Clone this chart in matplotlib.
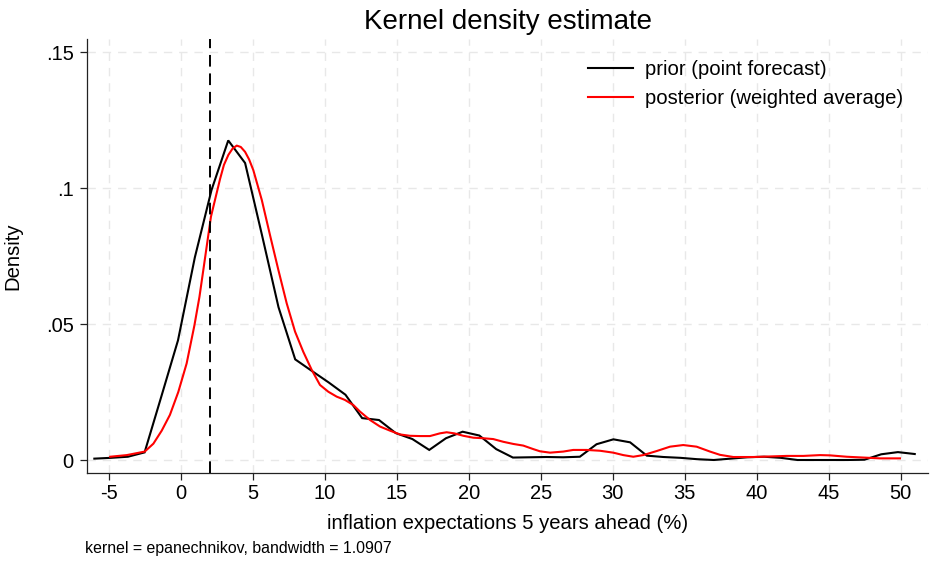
import matplotlib
matplotlib.use("Agg")
import matplotlib.pyplot as plt

plt.rcParams['font.family'] = ['Liberation Sans', 'DejaVu Sans']

# prior (point forecast) density, evaluated on Stata's 50-point grid
prior_x = [-6.00, -4.84, -3.67, -2.51, -1.35, -0.19, 0.98, 2.14, 3.30, 4.47,
           5.63, 6.79, 7.95, 9.12, 10.28, 11.44, 12.60, 13.77, 14.93, 16.09,
           17.26, 18.42, 19.58, 20.74, 21.91, 23.07, 24.23, 25.40, 26.56, 27.72,
           28.88, 30.05, 31.21, 32.37, 33.53, 34.70, 35.86, 37.02, 38.19, 39.35,
           40.51, 41.67, 42.84, 44.00, 45.16, 46.33, 47.49, 48.65, 49.81, 50.98]
prior_y = [0.0005, 0.0008, 0.0012, 0.0028, 0.0233, 0.0440, 0.0745, 0.0993, 0.1175, 0.1092,
           0.0830, 0.0562, 0.0370, 0.0327, 0.0285, 0.0240, 0.0154, 0.0147, 0.0099, 0.0077,
           0.0037, 0.0080, 0.0104, 0.0090, 0.0040, 0.0009, 0.0010, 0.0011, 0.0010, 0.0012,
           0.0058, 0.0076, 0.0065, 0.0016, 0.0011, 0.0008, 0.0003, 0.0000, 0.0005, 0.0010,
           0.0012, 0.0008, 0.0000, 0.0000, 0.0000, 0.0000, 0.0001, 0.0021, 0.0029, 0.0022]

# posterior (weighted average) density
post_x = [-4.9, -3.75, -2.5, -1.9, -1.32, -0.75, -0.17, 0.41, 0.95, 1.3,
          1.57, 2.1, 2.73, 3.0, 3.31, 3.6, 3.89, 4.17, 4.47, 4.75,
          5.04, 5.63, 6.2, 6.78,
          7.36, 7.94, 8.51, 9.1, 9.67, 10.25, 10.83, 11.4, 11.99, 12.45,
          13.15, 13.84, 14.53, 15.23, 15.92, 16.62, 17.31, 18.0, 18.47, 19.0,
          19.63, 20.32, 21.01, 21.7, 22.4, 23.1, 23.79, 24.49, 24.95, 25.65,
          26.57, 27.26, 28.19, 29.12, 30.04, 30.74, 31.43, 32.12, 33.06, 33.98,
          34.9, 35.83, 36.76, 37.45, 38.38, 39.76, 40.92, 42.08, 43.24, 44.4,
          45.1, 46.25, 47.4, 48.56, 49.95]
post_y = [0.0012, 0.0018, 0.0031, 0.0060, 0.0108, 0.0166, 0.0250, 0.0355, 0.0495, 0.0600,
          0.0699, 0.0895, 0.1033, 0.1085, 0.1122, 0.1145, 0.1156, 0.1151, 0.1133, 0.1105,
          0.1066, 0.0956, 0.0827, 0.0699,
          0.0576, 0.0472, 0.0398, 0.0331, 0.0276, 0.0251, 0.0233, 0.0221, 0.0202, 0.0178,
          0.0147, 0.0123, 0.0108, 0.0094, 0.0089, 0.0088, 0.0088, 0.0098, 0.0102, 0.0098,
          0.0089, 0.0082, 0.0080, 0.0077, 0.0067, 0.0059, 0.0053, 0.0040, 0.0032, 0.0027,
          0.0031, 0.0037, 0.0037, 0.0034, 0.0027, 0.0018, 0.0012, 0.0018, 0.0033, 0.0049,
          0.0055, 0.0049, 0.0031, 0.0019, 0.0011, 0.0011, 0.0013, 0.0015, 0.0015, 0.0018,
          0.0017, 0.0012, 0.0009, 0.0006, 0.0006]

ref_line = 2
xticks = [-5, 0, 5, 10, 15, 20, 25, 30, 35, 40, 45, 50]
yticks = [0, 0.05, 0.1, 0.15]
ytick_labels = ["0", ".05", ".1", ".15"]

fig = plt.figure(figsize=(9.3, 5.62), dpi=100)
ax = fig.add_axes([87/930, 1 - 473/562, 841/930, 434/562])

ax.set_xlim(-6.51, 51.9)
ax.set_ylim(-0.00478, 0.1548)

grid_kw = dict(color='#e8e8e8', lw=1.0, ls=(0, (6, 5)), zorder=0)
for t in xticks:
    ax.axvline(t, **grid_kw)
for t in yticks:
    ax.axhline(t, **grid_kw)

ax.plot(prior_x, prior_y, color='black', lw=1.5, label='prior (point forecast)',
        solid_joinstyle='miter', zorder=3)
ax.plot(post_x, post_y, color='red', lw=1.5, label='posterior (weighted average)',
        solid_joinstyle='round', zorder=3)
ax.axvline(ref_line, color='black', lw=1.4, ls=(0, (6, 3.5)), zorder=4)

ax.set_xticks(xticks)
ax.set_xticklabels([str(t) for t in xticks])
ax.set_yticks(yticks)
ax.set_yticklabels(ytick_labels)
ax.tick_params(axis='both', direction='out', length=5, width=0.9, colors='#222222',
               labelsize=14.5, labelcolor='black')
ax.tick_params(axis='x', pad=3)
ax.tick_params(axis='y', pad=4.5)

for s in ['top', 'right']:
    ax.spines[s].set_visible(False)
for s in ['left', 'bottom']:
    ax.spines[s].set_color('#222222')
    ax.spines[s].set_linewidth(0.9)

ax.set_xlabel('inflation expectations 5 years ahead (%)', fontsize=14.6, labelpad=8)
ax.set_ylabel('Density', fontsize=14.6, labelpad=17)
ax.set_title('Kernel density estimate', fontsize=20, pad=7)

fig.text(85/930, 1 - 548/562, 'kernel = epanechnikov, bandwidth = 1.0907',
         fontsize=11.4, va='center', ha='left')

leg = ax.legend(loc='upper left', bbox_to_anchor=(588/930, 1 - 60/562),
                bbox_transform=fig.transFigure, frameon=False, fontsize=14.6,
                handlelength=2.2, handletextpad=0.6, labelspacing=0.5,
                borderaxespad=0, borderpad=0)

fig.savefig('out.png', dpi=100)
